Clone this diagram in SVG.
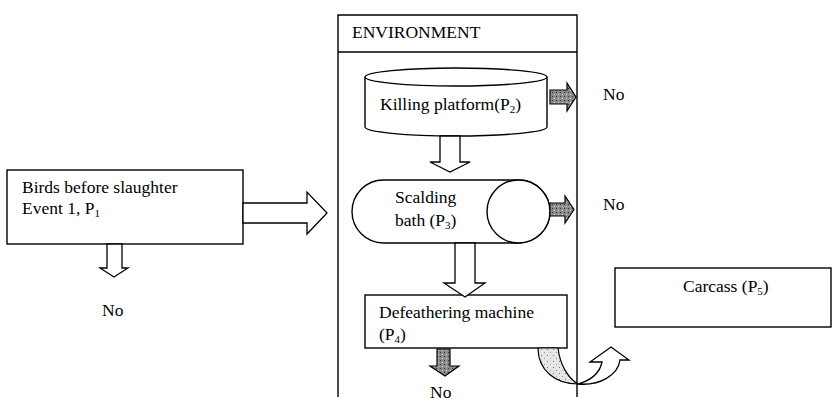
<svg xmlns="http://www.w3.org/2000/svg" width="833" height="410" viewBox="0 0 833 410">
<style>
text{font-family:"Liberation Serif","Times New Roman",serif;font-size:17.5px;fill:#000}
.sub{font-size:11px}
.box{fill:#fff;stroke:#000;stroke-width:1.4}
.ln{fill:none;stroke:#000;stroke-width:1.4}
.wa{fill:#fff;stroke:#000;stroke-width:1.3;stroke-linejoin:miter}
.ga{fill:url(#dark);stroke:#000;stroke-width:1.2}
.gb{fill:url(#light);stroke:#000;stroke-width:1.2}
</style>
<defs>
<pattern id="dark" width="4" height="4" patternUnits="userSpaceOnUse">
<rect width="4" height="4" fill="#8a8a8a"/>
<rect x="0" y="0" width="1" height="1" fill="#333"/>
<rect x="2" y="2" width="1" height="1" fill="#ddd"/>
</pattern>
<pattern id="light" width="6" height="6" patternUnits="userSpaceOnUse">
<rect width="6" height="6" fill="#e6e6e6"/>
<rect x="1" y="1" width="1" height="1" fill="#777"/>
<rect x="4" y="4" width="1" height="1" fill="#999"/>
</pattern>
</defs>

<g id="environment">
<path class="ln" d="M338,397 V15 H577 V397"/>
<path class="ln" d="M338,52 H577"/>
<text x="352" y="38">ENVIRONMENT</text>
</g>

<g id="birds">
<rect class="box" x="7" y="170" width="236" height="74"/>
<text x="22" y="193">Birds before slaughter</text>
<text x="22" y="214">Event 1, P<tspan class="sub" dy="3">1</tspan></text>
</g>

<g id="killing">
<path class="box" d="M365,77 V127 A91,9 0 0 0 547,127 V77"/>
<ellipse class="box" cx="456" cy="77" rx="91" ry="9"/>
<text x="380" y="110">Killing platform(P<tspan class="sub" dy="3">2</tspan><tspan dy="-3">)</tspan></text>
</g>

<g id="scalding">
<rect class="box" x="352" y="180" width="198" height="63" rx="31.5" ry="31.5"/>
<circle class="box" cx="518.5" cy="211.5" r="31.5"/>
<text x="395" y="203">Scalding</text>
<text x="395" y="226">bath (P<tspan class="sub" dy="3">3</tspan><tspan dy="-3">)</tspan></text>
</g>

<g id="defeathering">
<rect class="box" x="365" y="295" width="202" height="53"/>
<text x="379" y="318">Defeathering machine</text>
<text x="379" y="340">(P<tspan class="sub" dy="3">4</tspan><tspan dy="-3">)</tspan></text>
</g>

<g id="carcass">
<rect class="box" x="615" y="268" width="216" height="59"/>
<text x="683" y="292">Carcass (P<tspan class="sub" dy="3">5</tspan><tspan dy="-3">)</tspan></text>
</g>

<g id="connectors">
<path class="wa" d="M243,203 H307 V192 L327,213 L307,234 V223 H243 Z"/>
<path class="wa" d="M107,244 V268 H100 L114,277 L128,268 H122 V244 Z"/>
<path class="wa" d="M440,136 V162 H430 L450,172 L470,162 H460 V136 Z"/>
<path class="wa" d="M455,243 V283 H444 L465,297 L485,283 H475 V243 Z"/>
<path class="ga" d="M550,90 H567 V83 L576,97 L567,111 V104 H550 Z"/>
<path class="ga" d="M550,203 H565 V196 L574,209.5 L565,223 V216 H550 Z"/>
<path class="ga" d="M437,349 V366 H430 L445,376 L459,366 H450 V349 Z"/>
<path class="gb" d="M538,348 C538,370 555,384 578,384 C568,378 560,365 558,348 Z"/>
<path class="wa" d="M578,384 C592,380 600,372 602,362 L590,362 L611,347 L629,360 L620,360 C618,375 600,386 578,384 Z"/>
<text x="102" y="316">No</text>
<text x="603" y="100">No</text>
<text x="603" y="210">No</text>
<text x="430" y="398">No</text>
</g>
</svg>
